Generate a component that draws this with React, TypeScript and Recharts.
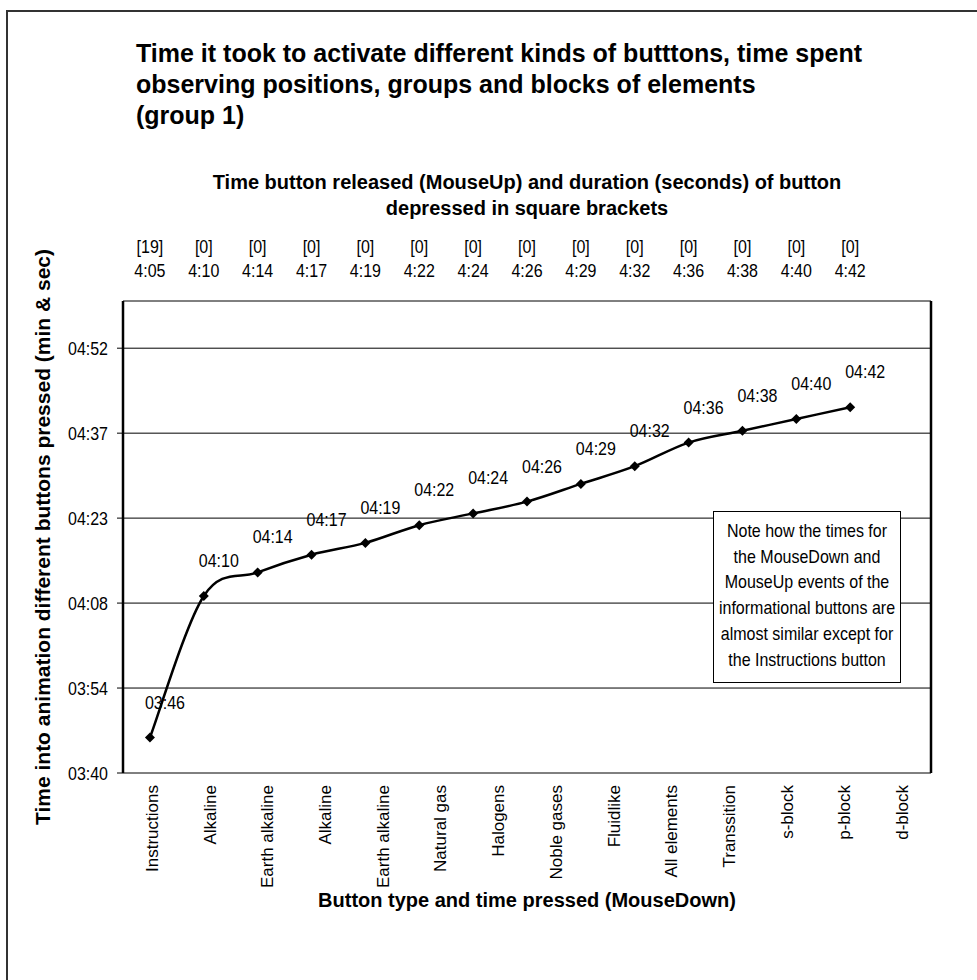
import React from "react";
import { LineChart, Line, XAxis, YAxis, CartesianGrid, Label, LabelList } from "recharts";

// ---------- data ----------
const categories = [
  "Instructions", "Alkaline", "Earth alkaline", "Alkaline", "Earth alkaline", "Natural gas",
  "Halogens", "Noble gases", "Fluidlike", "All elements", "Transsition", "s-block", "p-block", "d-block",
];
// time pressed (MouseDown), seconds into animation
const pressedSeconds = [226, 250, 254, 257, 259, 262, 264, 266, 269, 272, 276, 278, 280, 282];
// time released (MouseUp)
const releasedTimes = ["4:05", "4:10", "4:14", "4:17", "4:19", "4:22", "4:24", "4:26", "4:29", "4:32", "4:36", "4:38", "4:40", "4:42"];
// duration of button depressed (seconds)
const pressDurations = ["[19]", "[0]", "[0]", "[0]", "[0]", "[0]", "[0]", "[0]", "[0]", "[0]", "[0]", "[0]", "[0]", "[0]"];
const yTickValues = [220, 234.4, 248.8, 263.2, 277.6, 292];
const yDomain = [220, 300];
const topSlotCount = 15;

const chartTitle = [
  "Time it took to activate different kinds of butttons, time spent",
  "observing positions, groups and blocks of elements",
  "(group 1)",
];
const topAxisTitle = [
  "Time button released (MouseUp) and duration (seconds) of button",
  "depressed in square brackets",
];
const yAxisTitle = "Time into animation different buttons pressed (min & sec)";
const bottomAxisTitle = "Button type and time pressed (MouseDown)";
const noteLines = [
  "Note how the times for",
  "the MouseDown and",
  "MouseUp events of the",
  "informational buttons are",
  "almost similar except for",
  "the Instructions button",
];

// ---------- derived ----------
const chartData = pressedSeconds.map((v, i) => ({ slot: i + 0.5, pressed: v }));
const topTickLines = Array.from({ length: topSlotCount + 1 }, (_, i) => i);
const topLabelSlots = releasedTimes.map((_, i) => i + 0.5);
const bottomTickLines = Array.from({ length: categories.length + 1 }, (_, i) => i);
const bottomLabelSlots = categories.map((_, i) => i + 0.5);

const SANS = '"Liberation Sans", Arial, sans-serif';

const fmt = (s: number) => {
  const m = Math.floor(s / 60);
  const sec = Math.floor(s - m * 60 + 1e-6);
  return `${String(m).padStart(2, "0")}:${String(sec).padStart(2, "0")}`;
};

// Excel-like smoothed line (Catmull-Rom style bezier)
const excelCurve: any = (context: any) => {
  let pts: number[][] = [];
  return {
    areaStart() {},
    areaEnd() {},
    lineStart() {
      pts = [];
    },
    point(x: number, y: number) {
      pts.push([+x, +y]);
    },
    lineEnd() {
      const n = pts.length;
      if (!n) return;
      context.moveTo(pts[0][0], pts[0][1]);
      for (let i = 0; i < n - 1; i++) {
        const p0 = pts[Math.max(0, i - 1)];
        const p1 = pts[i];
        const p2 = pts[i + 1];
        const p3 = pts[Math.min(n - 1, i + 2)];
        context.bezierCurveTo(
          p1[0] + (p2[0] - p0[0]) / 6,
          p1[1] + (p2[1] - p0[1]) / 6,
          p2[0] - (p3[0] - p1[0]) / 6,
          p2[1] - (p3[1] - p1[1]) / 6,
          p2[0],
          p2[1]
        );
      }
    },
  };
};

// text drawn slightly taller than wide, like the reference's condensed look
const TallText = ({ x, y, anchor = "middle", children }: any) => (
  <text
    x={x}
    y={y}
    textAnchor={anchor}
    fontFamily={SANS}
    fontSize={16}
    fill="#000"
    transform={`translate(0 ${y}) scale(1 1.2) translate(0 ${-y})`}
  >
    {children}
  </text>
);

const EmptyTick = () => <g />;

const TopTick = (props: any) => {
  const { x, y, payload } = props;
  const i = Math.round(payload.value - 0.5);
  return (
    <g>
      <TallText x={x} y={y - 48}>{pressDurations[i]}</TallText>
      <TallText x={x} y={y - 24}>{releasedTimes[i]}</TallText>
    </g>
  );
};

const BottomTick = (props: any) => {
  const { x, y, payload } = props;
  const i = Math.round(payload.value - 0.5);
  const bx = x + 6;
  const by = y + 12;
  return (
    <text
      x={bx}
      y={by}
      transform={`rotate(-90, ${bx}, ${by})`}
      textAnchor="end"
      fontFamily={SANS}
      fontSize={17}
      fill="#000"
    >
      {categories[i]}
    </text>
  );
};

const LeftTick = (props: any) => {
  const { x, y, payload } = props;
  return (
    <TallText x={x} y={y + 7} anchor="end">
      {fmt(payload.value)}
    </TallText>
  );
};

const Diamond = (props: any) => {
  const { cx, cy, index } = props;
  const r = 5;
  return (
    <polygon
      key={`dot-${index}`}
      points={`${cx},${cy - r} ${cx + r},${cy} ${cx},${cy + r} ${cx - r},${cy}`}
      fill="#000"
    />
  );
};

const DataLabel = (props: any) => {
  const { x, y, value } = props;
  return (
    <TallText x={x + 15} y={y - 29}>
      {fmt(value)}
    </TallText>
  );
};

export default function App() {
  return (
    <div style={{ position: "absolute", left: 0, top: 0, width: 977, height: 980, overflow: "hidden", background: "#fff" }}>
      <div
        style={{
          position: "absolute",
          left: 6,
          top: 10,
          width: 1000,
          height: 1000,
          borderLeft: "2px solid #333",
          borderTop: "2px solid #333",
        }}
      />
      <div style={{ position: "absolute", left: 0, top: 0 }}>
        <LineChart width={977} height={980} data={chartData} margin={{ top: 161, right: 0, bottom: 27, left: 0 }}>
          <CartesianGrid xAxisId="topLabels" yAxisId="left" vertical={false} stroke="#000" strokeWidth={1} />
          <XAxis
            xAxisId="topTicks"
            orientation="top"
            type="number"
            dataKey="slot"
            domain={[0, topSlotCount]}
            ticks={topTickLines}
            interval={0}
            height={0}
            tick={EmptyTick}
            tickSize={6}
            tickLine={{ stroke: "#000", strokeWidth: 1 }}
            axisLine={{ stroke: "#000", strokeWidth: 2.5 }}
          />
          <XAxis
            xAxisId="topLabels"
            orientation="top"
            type="number"
            dataKey="slot"
            domain={[0, topSlotCount]}
            ticks={topLabelSlots}
            interval={0}
            height={140}
            tick={TopTick}
            tickSize={0}
            tickMargin={0}
            tickLine={false}
            axisLine={false}
          >
            <Label
              content={(p: any) => {
                const vb = p.viewBox;
                const cx = vb.x + vb.width / 2;
                return (
                  <g>
                    {topAxisTitle.map((t, k) => (
                      <text
                        key={k}
                        x={cx}
                        y={vb.y + 28 + k * 26}
                        textAnchor="middle"
                        fontFamily={SANS}
                        fontWeight="bold"
                        fontSize={20}
                        fill="#000"
                      >
                        {t}
                      </text>
                    ))}
                  </g>
                );
              }}
            />
          </XAxis>
          <XAxis
            xAxisId="bottomTicks"
            orientation="bottom"
            type="number"
            dataKey="slot"
            domain={[0, categories.length]}
            ticks={bottomTickLines}
            interval={0}
            height={0}
            tick={EmptyTick}
            tickSize={7}
            tickLine={{ stroke: "#000", strokeWidth: 1 }}
            axisLine={{ stroke: "#000", strokeWidth: 2.5 }}
          />
          <XAxis
            xAxisId="bottomLabels"
            orientation="bottom"
            type="number"
            dataKey="slot"
            domain={[0, categories.length]}
            ticks={bottomLabelSlots}
            interval={0}
            height={180}
            tick={BottomTick}
            tickSize={0}
            tickMargin={0}
            tickLine={false}
            axisLine={false}
          >
            <Label
              content={(p: any) => {
                const vb = p.viewBox;
                return (
                  <text
                    x={vb.x + vb.width / 2}
                    y={vb.y + 134}
                    textAnchor="middle"
                    fontFamily={SANS}
                    fontWeight="bold"
                    fontSize={20}
                    fill="#000"
                  >
                    {bottomAxisTitle}
                  </text>
                );
              }}
            />
          </XAxis>
          <YAxis
            yAxisId="left"
            type="number"
            domain={yDomain}
            ticks={yTickValues}
            interval={0}
            width={123}
            tick={LeftTick}
            tickSize={6}
            tickMargin={9}
            tickLine={{ stroke: "#000", strokeWidth: 1 }}
            axisLine={{ stroke: "#000", strokeWidth: 2.5 }}
          >
            <Label
              content={(p: any) => {
                const vb = p.viewBox;
                const cx = vb.x + 50;
                const cy = vb.y + vb.height / 2;
                return (
                  <text
                    x={cx}
                    y={cy}
                    transform={`rotate(-90, ${cx}, ${cy})`}
                    textAnchor="middle"
                    fontFamily={SANS}
                    fontWeight="bold"
                    fontSize={21}
                    fill="#000"
                  >
                    {yAxisTitle}
                  </text>
                );
              }}
            />
          </YAxis>
          <YAxis
            yAxisId="right"
            orientation="right"
            type="number"
            domain={yDomain}
            width={46}
            tick={false}
            tickLine={false}
            axisLine={{ stroke: "#000", strokeWidth: 2.5 }}
          />
          <Line
            xAxisId="topLabels"
            yAxisId="left"
            dataKey="pressed"
            type={excelCurve}
            stroke="#000"
            strokeWidth={2.5}
            dot={Diamond}
            activeDot={false}
            isAnimationActive={false}
          >
            <LabelList dataKey="pressed" content={DataLabel} />
          </Line>
        </LineChart>
      </div>
      <div
        style={{
          position: "absolute",
          left: 136,
          top: 38,
          fontFamily: SANS,
          fontWeight: "bold",
          fontSize: 25,
          lineHeight: "31px",
          whiteSpace: "nowrap",
          color: "#000",
        }}
      >
        {chartTitle.map((t, k) => (
          <div key={k}>{t}</div>
        ))}
      </div>
      <div
        style={{
          position: "absolute",
          left: 713,
          top: 511,
          width: 186,
          height: 164,
          border: "1px solid #000",
          background: "#fff",
          textAlign: "center",
          fontFamily: SANS,
          fontSize: 16,
          lineHeight: "25.7px",
          paddingTop: 6,
          boxSizing: "content-box",
          whiteSpace: "nowrap",
          color: "#000",
        }}
      >
        {noteLines.map((t, k) => (
          <div key={k} style={{ transform: "scaleY(1.2)" }}>
            {t}
          </div>
        ))}
      </div>
    </div>
  );
}
